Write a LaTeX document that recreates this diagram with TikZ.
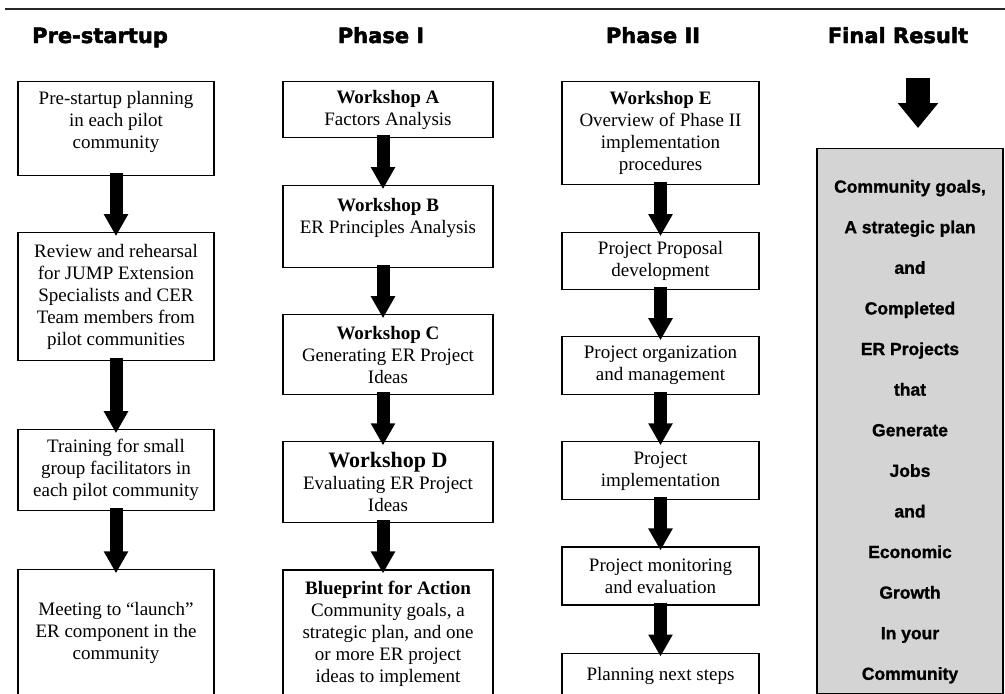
\documentclass[tikz,border=0pt]{standalone}
\usepackage{fontspec}
\setmainfont{Liberation Serif}
\newfontfamily\headfont{DejaVu Sans}[BoldFeatures={FakeBold=2.2}]
\newfontfamily\resultfont{Liberation Sans}[BoldFeatures={FakeBold=1.2}]
\usepackage{tikz}
\usetikzlibrary{positioning, arrows.meta}

\tikzset{
  stepbox/.style={draw=black, line width=1.1pt, align=center, inner sep=2pt,
    anchor=north, font=\fontsize{19}{22}\selectfont},
  colpre/.style={stepbox, minimum width=196pt},
  colone/.style={stepbox, minimum width=210pt},
  coltwo/.style={stepbox, minimum width=197pt},
  phasehead/.style={anchor=base, font=\headfont\bfseries\fontsize{21}{24}\selectfont},
  flowarrow/.style={line width=13pt, -{Triangle[width=23pt,length=22pt]},
    shorten <=-3pt, shorten >=-4pt},
}

\begin{document}
\begin{tikzpicture}[x=1pt, y=-1pt]
  \useasboundingbox (0,0) rectangle (1005,694);
  \draw[line width=1.8pt, black!85] (5,9) -- (1005,9);

  % column headings
  \node[phasehead] (hpre) at (100,43) {Pre-startup};
  \node[phasehead] (hone) at (381,43) {Phase I};
  \node[phasehead] (htwo) at (653,43) {Phase II};
  \node[phasehead] (hres) at (898,43) {Final Result};

  % pre-startup
  \node[colpre, minimum height=94pt] (plan) at (116,81)
      {Pre-startup planning\\in each pilot\\community\\[-4pt]\mbox{}};
  \node[colpre, minimum height=128pt, below=56pt of plan] (review)
      {Review and rehearsal\\for JUMP Extension\\Specialists and CER\\Team members from\\pilot communities};
  \node[colpre, minimum height=81pt, below=68pt of review] (training)
      {Training for small\\group facilitators in\\each pilot community};
  \node[colpre, minimum height=126pt, below=58pt of training] (launch)
      {Meeting to ``launch''\\ER component in the\\community};

  % phase I
  \node[colone, minimum height=56pt] (wsA) at (388,81)
      {\textbf{Workshop A}\\Factors Analysis};
  \node[colone, minimum height=82pt, below=47pt of wsA] (wsB)
      {\textbf{Workshop B}\\ER Principles Analysis\\\mbox{}};
  \node[colone, minimum height=80pt, below=46pt of wsB] (wsC)
      {\textbf{Workshop C}\\Generating ER Project\\Ideas};
  \node[colone, minimum height=81pt, below=46pt of wsC] (wsD)
      {{\fontsize{22}{24}\selectfont\textbf{Workshop D}}\\Evaluating ER Project\\Ideas};
  \node[colone, minimum height=127pt, below=46pt of wsD] (blueprint)
      {\textbf{Blueprint for Action}\\Community goals, a\\strategic plan, and one\\or more ER project\\ideas to implement};

  % phase II
  \node[coltwo, minimum height=103pt] (wsE) at (660.5,81)
      {\textbf{Workshop E}\\Overview of Phase II\\implementation\\procedures};
  \node[coltwo, minimum height=57pt, below=47pt of wsE] (proposal)
      {Project Proposal\\development};
  \node[coltwo, minimum height=58pt, below=46pt of proposal] (organize)
      {Project organization\\and management};
  \node[coltwo, minimum height=58pt, below=46pt of organize] (implement)
      {Project\\implementation};
  \node[coltwo, minimum height=58pt, below=46pt of implement] (monitor)
      {Project monitoring\\and evaluation};
  \node[coltwo, minimum height=45pt, below=47pt of monitor] (nextsteps)
      {Planning next steps};

  % final result
  \node[draw=black, line width=1.1pt, fill=black!17, anchor=north, align=center,
        minimum width=186pt, minimum height=545pt,
        font=\resultfont\bfseries\fontsize{17.5}{40.6}\selectfont] (result) at (910,148)
      {\rule{0pt}{34pt}Community goals,\\A strategic plan\\and\\Completed\\ER Projects\\that\\Generate\\Jobs\\and\\Economic\\Growth\\In your\\Community};
  \coordinate (restop) at (918,78);
  \coordinate (restip) at (918,128);

  % arrows
  \draw[flowarrow] (plan) -- (review);
  \draw[flowarrow] (review) -- (training);
  \draw[flowarrow] (training) -- (launch);

  \draw[flowarrow] ([xshift=-5pt]wsA.south) -- ([xshift=-5pt]wsB.north);
  \draw[flowarrow] ([xshift=-5pt]wsB.south) -- ([xshift=-5pt]wsC.north);
  \draw[flowarrow] ([xshift=-5pt]wsC.south) -- ([xshift=-5pt]wsD.north);
  \draw[flowarrow] ([xshift=-5pt]wsD.south) -- ([xshift=-5pt]blueprint.north);

  \draw[flowarrow] (wsE) -- (proposal);
  \draw[flowarrow] (proposal) -- (organize);
  \draw[flowarrow] (organize) -- (implement);
  \draw[flowarrow] (implement) -- (monitor);
  \draw[flowarrow] (monitor) -- (nextsteps);

  \draw[line width=24pt, -{Triangle[width=39pt,length=25pt]}] (restop) -- (restip);
\end{tikzpicture}
\end{document}
